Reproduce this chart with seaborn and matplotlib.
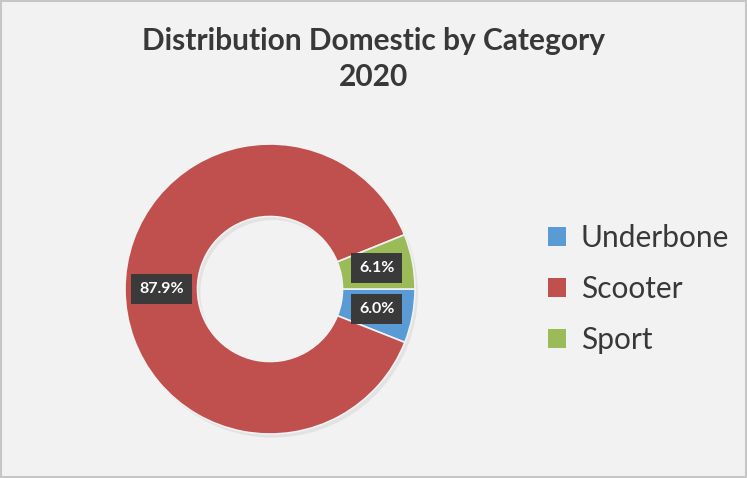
import matplotlib
matplotlib.use("Agg")
import matplotlib.pyplot as plt
import seaborn as sns
import numpy as np
from matplotlib.patches import Patch, Rectangle

sns.set_style("white")
plt.rcParams['font.family'] = ['Lato', 'DejaVu Sans']

categories = ["Underbone", "Scooter", "Sport"]
values = [6.0, 87.9, 6.1]
colors = ["#5b9bd5", "#c0504d", "#9bbb59"]
title = "Distribution Domestic by Category\n2020"

W, H = 747, 478
fig = plt.figure(figsize=(W / 100, H / 100), dpi=100)
fig.patch.set_facecolor("#f2f2f2")
fig.patches.append(Rectangle((0.002, 0.003), 0.996, 0.994, transform=fig.transFigure,
                             fill=False, edgecolor="#c6c6c6", linewidth=1.5))

cx, cy, R = 270, 289, 145
ax = fig.add_axes([(cx - R) / W, (H - cy - R) / H, 2 * R / W, 2 * R / H])
ax.set_facecolor("none")

# subtle shadow
ax.pie(values, radius=1.0, startangle=0, counterclock=False,
       colors=["#000000"] * 3, center=(0.02, -0.025),
       wedgeprops=dict(width=0.5, alpha=0.06, linewidth=0))

wedges, _, autotexts = ax.pie(
    values, radius=1.0, startangle=0, counterclock=False, colors=colors,
    autopct="%.1f%%", pctdistance=0.75,
    wedgeprops=dict(width=0.5, edgecolor="#f2f2f2", linewidth=1.2),
    textprops=dict(color="white", fontsize=11.5, fontweight="bold"))
for t in autotexts:
    t.set_bbox(dict(boxstyle="square,pad=0.5", facecolor="#3a3a3a", edgecolor="none"))
ax.set_xlim(-1, 1)
ax.set_ylim(-1, 1)
ax.axis("off")

fig.text(0.5, 1 - 59 / H, title, ha="center", va="center", fontsize=21.5,
         fontweight="bold", color="#383838", linespacing=1.38)

handles = [Patch(facecolor=c, edgecolor="none") for c in colors]
leg = fig.legend(handles, categories, loc="center left",
                 bbox_to_anchor=(527 / W, 1 - 289 / H), frameon=False,
                 fontsize=21.5, labelcolor="#383838", handlelength=0.6,
                 handleheight=0.6, handletextpad=0.5, labelspacing=0.78,
                 borderpad=0.2)

fig.savefig("out.png", dpi=100, facecolor=fig.get_facecolor())
